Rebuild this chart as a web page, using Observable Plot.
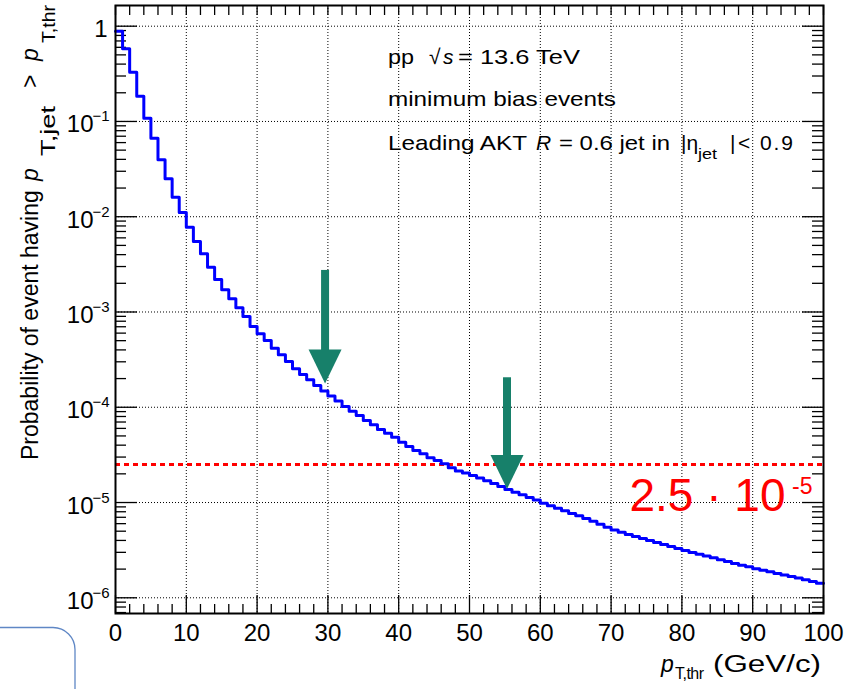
<!DOCTYPE html>
<html><head><meta charset="utf-8">
<script src="https://cdn.jsdelivr.net/npm/d3@7"></script>
<script src="https://cdn.jsdelivr.net/npm/@observablehq/plot@0.6"></script>
<style>html,body{margin:0;padding:0;background:#fff;} svg{display:block}</style>
</head><body><div id="chart"></div>
<script>
// ---- data ----
const binEdges = d3.range(0, 101); // bin edges 0..100 GeV/c, 1 GeV wide
const probability = [
  0.886, 0.579, 0.329, 0.184, 0.108, 0.0668, 0.0396, 0.0250, 0.0160, 0.0111,
  0.00777, 0.00550, 0.00408, 0.00295, 0.00219, 0.00171, 0.00138, 0.00111, 0.000897, 0.000705,
  0.000590, 0.000502, 0.000417, 0.000356, 0.000303, 0.000254, 0.000221, 0.000194, 0.000169, 0.000148,
  0.000131, 0.000116, 0.000102, 9.09e-5, 8.20e-5, 7.27e-5, 6.55e-5, 5.85e-5, 5.35e-5, 4.85e-5,
  4.30e-5, 3.87e-5, 3.52e-5, 3.25e-5, 2.95e-5, 2.76e-5, 2.55e-5, 2.32e-5, 2.14e-5, 2.04e-5,
  1.92e-5, 1.81e-5, 1.69e-5, 1.58e-5, 1.47e-5, 1.37e-5, 1.28e-5, 1.21e-5, 1.13e-5, 1.06e-5,
  9.85e-6, 9.24e-6, 8.72e-6, 8.19e-6, 7.67e-6, 7.26e-6, 6.80e-6, 6.37e-6, 5.90e-6, 5.50e-6,
  5.15e-6, 4.88e-6, 4.62e-6, 4.41e-6, 4.20e-6, 4.00e-6, 3.81e-6, 3.63e-6, 3.46e-6, 3.30e-6,
  3.14e-6, 2.99e-6, 2.87e-6, 2.74e-6, 2.63e-6, 2.51e-6, 2.41e-6, 2.29e-6, 2.20e-6, 2.12e-6,
  2.02e-6, 1.94e-6, 1.88e-6, 1.80e-6, 1.73e-6, 1.67e-6, 1.61e-6, 1.55e-6, 1.48e-6, 1.42e-6
];
const xMajorTicks = [0, 10, 20, 30, 40, 50, 60, 70, 80, 90, 100];
const xMinorTicks = [2,4,6,8,12,14,16,18,22,24,26,28,32,34,36,38,42,44,46,48,52,54,56,58,62,64,66,68,72,74,76,78,82,84,86,88,92,94,96,98];
const yDecades = [1e-6, 1e-5, 1e-4, 1e-3, 1e-2, 1e-1, 1];
const yExponents = [-6, -5, -4, -3, -2, -1, 0];
const yMinorMultipliers = [2, 3, 4, 5, 6, 7, 8, 9];
const threshold = 2.5e-5;
const thresholdLabel = "2.5 · 10";
const thresholdExponent = "-5";
const arrowX = [29.6, 55.3];
const arrowTop = [2.73e-3, 2.04e-4];
const arrowTip = [1.78e-4, 1.39e-5];

// ---- layout ----
const W = 852, H = 689, mL = 115, mR = 29, mT = 5, mB = 76;
const fW = W - mL - mR, fH = H - mT - mB;
const yDomain = [6.84e-7, 1.649];
const font = "'Liberation Sans', Arial, Helvetica, sans-serif";
const green = "#17806a";

const stepData = binEdges.map((x, i) => ({x, p: probability[Math.min(i, probability.length - 1)]}));
const yMinor = [];
for (let e = -7; e <= 0; e++) for (const m of yMinorMultipliers) {
  const v = m * Math.pow(10, e);
  if (v > yDomain[0] && v < yDomain[1]) yMinor.push(v);
}
const decadeLabels = yDecades.map((v, i) => ({v, e: yExponents[i]}));
const arrows = arrowX.map((x, i) => ({x, top: arrowTop[i], tip: arrowTip[i]}));
const headShape = {draw(ctx) { ctx.moveTo(0, 0); ctx.lineTo(-16.5, -34); ctx.lineTo(16.5, -34); ctx.closePath(); }};
const tk = {stroke: "#000", strokeWidth: 1.3};

const plot = Plot.plot({
  width: W, height: H,
  marginLeft: mL, marginRight: mR, marginTop: mT, marginBottom: mB,
  style: {fontFamily: font, background: "#fff", color: "#000", overflow: "visible"},
  x: {domain: [0, 100], axis: null},
  y: {type: "log", domain: yDomain, axis: null},
  marks: [
    // dotted grid
    Plot.ruleX(xMajorTicks.filter(d => d > 0 && d < 100), {x: d => d, stroke: "#000", strokeWidth: 1, strokeDasharray: "1,2"}),
    Plot.ruleY(yDecades, {y: d => d, stroke: "#000", strokeWidth: 1, strokeDasharray: "1,2"}),
    // inward ticks
    Plot.ruleX(xMajorTicks, {x: d => d, insetTop: fH - 18, ...tk}),
    Plot.ruleX(xMinorTicks, {x: d => d, insetTop: fH - 9, ...tk}),
    Plot.ruleX(xMajorTicks.concat(xMinorTicks), {x: d => d, insetBottom: fH - 10, ...tk}),
    Plot.ruleY(yDecades, {y: d => d, insetRight: fW - 22, ...tk}),
    Plot.ruleY(yMinor, {y: d => d, insetRight: fW - 11, ...tk}),
    Plot.ruleY(yDecades, {y: d => d, insetLeft: fW - 21, ...tk}),
    Plot.ruleY(yMinor, {y: d => d, insetLeft: fW - 11, ...tk}),
    // threshold
    Plot.ruleY([threshold], {y: d => d, stroke: "#ff0000", strokeWidth: 3, strokeDasharray: "5,4"}),
    // histogram
    Plot.line(stepData, {x: "x", y: "p", curve: "step-after", stroke: "#0000ff", strokeWidth: 3}),
    // arrows
    Plot.ruleX(arrows, {x: "x", y1: "top", y2: "tip", insetBottom: 30, stroke: green, strokeWidth: 8}),
    Plot.dot(arrows, {x: "x", y: "tip", symbol: headShape, r: 10, fill: green, stroke: "none"}),
    Plot.frame({stroke: "#000", strokeWidth: 2}),
    // tick labels
    Plot.text(xMajorTicks, {x: d => d, text: d => String(d), frameAnchor: "bottom", lineAnchor: "bottom", dy: 27, fontSize: 24, fill: "#000"}),
    Plot.text(decadeLabels.filter(d => d.e < 0), {y: "v", text: () => "10", frameAnchor: "left", textAnchor: "end", lineAnchor: "bottom", dx: -22, dy: 11, fontSize: 24, fill: "#000"}),
    Plot.text(decadeLabels.filter(d => d.e < 0), {y: "v", text: d => "\u2212" + Math.abs(d.e), frameAnchor: "left", textAnchor: "end", lineAnchor: "bottom", dx: -6, dy: 0, fontSize: 15, fill: "#000"}),
    Plot.text(decadeLabels.filter(d => d.e === 0), {y: "v", text: () => "1", frameAnchor: "left", textAnchor: "end", lineAnchor: "bottom", dx: -8, dy: 11, fontSize: 24, fill: "#000"}),
    // threshold label
    Plot.text([threshold], {y: d => d, text: () => thresholdLabel, frameAnchor: "right", textAnchor: "end", lineAnchor: "bottom", dx: -38, dy: 46, fontSize: 46, fill: "#ff0000"}),
    Plot.text([threshold], {y: d => d, text: () => thresholdExponent, frameAnchor: "right", textAnchor: "end", lineAnchor: "bottom", dx: -11, dy: 29, fontSize: 23, fill: "#ff0000"})
  ]
});

// ---- text annotations ----
const svg = d3.select(plot);
const g = svg.append("g").attr("font-family", font).attr("fill", "#000").attr("text-anchor", "start");
function put(x, y, str, o = {}) {
  const t = g.append("text").text(str).attr("font-size", o.size || 21).attr("text-anchor", "start");
  if (o.rotate) t.attr("transform", `translate(${x},${y}) rotate(-90)`);
  else t.attr("x", x).attr("y", y);
  if (o.italic) t.attr("font-style", "italic");
  if (o.len) t.attr("textLength", o.len).attr("lengthAdjust", o.adjust || "spacingAndGlyphs");
  return t;
}
// legend block
put(388, 63.5, "pp", {len: 26});
put(429, 63.5, "\u221A");
put(443, 63.5, "s", {italic: true});
put(458, 63.5, "= 13.6 TeV", {len: 122});
put(388, 106, "minimum bias events", {len: 228});
put(388, 150, "Leading AKT", {len: 139});
put(536, 150, "R", {italic: true});
put(559, 150, "= 0.6 jet in", {len: 111});
put(681, 150, "|\u03B7");
put(698, 159, "jet", {size: 15, len: 19});
put(730, 150, "|");
put(738, 150, "< 0.9", {len: 55, adjust: "spacing"});
// x title
put(661, 672, "p", {italic: true, size: 23});
put(675, 679, "T,thr", {size: 16, len: 29, adjust: "spacing"});
put(713, 672, "(GeV/c)", {size: 23, len: 108});
// y title
put(38, 460, "Probability of event having", {rotate: true, size: 23});
put(38, 181, "p", {rotate: true, italic: true, size: 23});
put(55, 156, "T,jet", {rotate: true, size: 20, len: 50});
put(38, 88, ">", {rotate: true, size: 23});
put(38, 61, "p", {rotate: true, italic: true, size: 23});
put(55, 43, "T,thr", {rotate: true, size: 19, len: 38});
// slide artefact (rounded box corner, bottom-left)
g.append("path").attr("d", "M0,627.5H53A22,22 0 0 1 75,649.5V689")
  .attr("fill", "none").attr("stroke", "#5f87c5").attr("stroke-width", 1.3);

document.getElementById("chart").appendChild(plot);
</script>
</body></html>
